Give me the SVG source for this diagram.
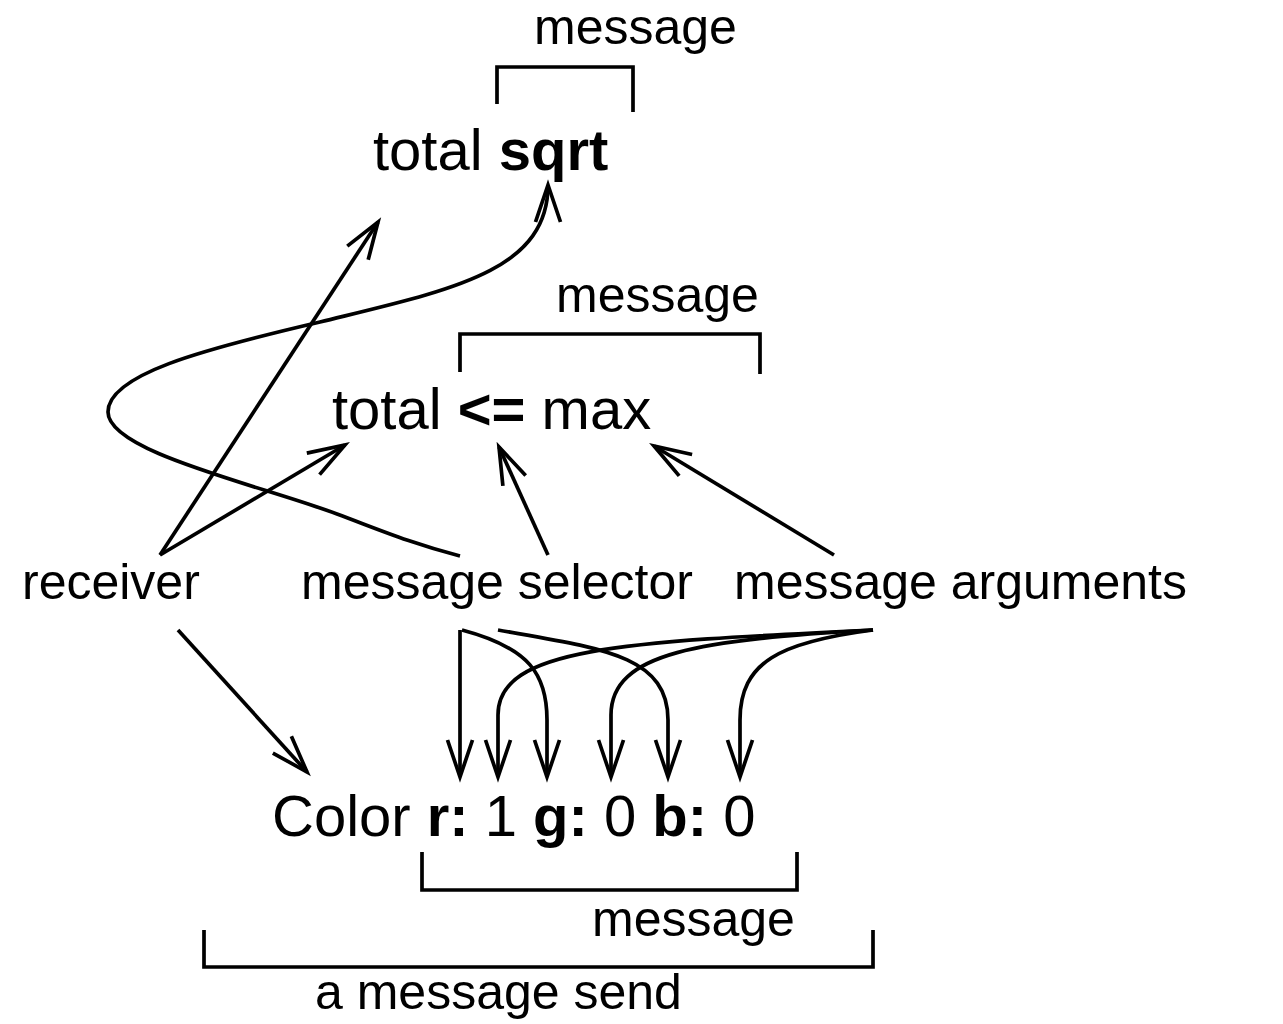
<svg xmlns="http://www.w3.org/2000/svg" width="1283" height="1024" viewBox="0 0 1283 1024">
<style>
text{font-family:"Liberation Sans",Arial,sans-serif;fill:#000}
.code{font-size:58px}
.lbl{font-size:50px}
.b{font-weight:bold}
.ln{fill:none;stroke:#000;stroke-width:3.7}
.arr{fill:none;stroke:#000;stroke-width:3.7;marker-end:url(#ah)}
</style>
<defs>
<marker id="ah" markerUnits="userSpaceOnUse" markerWidth="80" markerHeight="80" refX="0" refY="0" orient="auto" overflow="visible">
<path d="M-37,-12.5 L0,0 L-37,12.5" fill="none" stroke="#000" stroke-width="3.7"/>
</marker>
</defs>
<rect width="1283" height="1024" fill="#fff"/>
<g id="expr-sqrt">
<text class="code" x="373" y="170">total <tspan class="b">sqrt</tspan></text>
<path class="ln" d="M497,104 V67 H633 V112"/>
<text class="lbl" x="534" y="44">message</text>
</g>
<g id="expr-le">
<text class="code" x="332" y="429">total <tspan class="b">&lt;=</tspan> max</text>
<path class="ln" d="M460,372 V334 H760 V374"/>
<text class="lbl" x="556" y="312">message</text>
</g>
<g id="expr-color">
<text class="code" x="272" y="836">Color <tspan class="b">r:</tspan> 1 <tspan class="b">g:</tspan> 0 <tspan class="b">b:</tspan> 0</text>
<path class="ln" d="M422,852 V890 H797 V852"/>
<text class="lbl" x="592" y="936">message</text>
<path class="ln" d="M204,930 V967 H873 V930"/>
<text class="lbl" x="315" y="1009">a message send</text>
</g>
<g id="receiver"><text class="lbl" x="22" y="599">receiver</text></g>
<g id="selector"><text class="lbl" x="301" y="599">message selector</text></g>
<g id="arguments"><text class="lbl" x="734" y="599">message arguments</text></g>
<g id="connectors">
<path class="arr" d="M160,555 L378,222"/>
<path class="arr" d="M160,555 L345,445"/>
<path class="arr" d="M460,556 C410,543 380,530 337,514 C260,485 108,452 108,412 C108,375 200,350 320,322 C450,290 548,272 548,185"/>
<path class="arr" d="M548,555 L499,447"/>
<path class="arr" d="M834,555 L654,446"/>
<path class="arr" d="M178,630 L307,772"/>
<path class="arr" d="M460,630 L460,777"/>
<path class="arr" d="M462,630 C530,648 547,675 547,720 L547,777"/>
<path class="arr" d="M498,630 C600,648 668,655 668,720 L668,777"/>
<path class="arr" d="M873,630 C620,642 498,648 498,715 L498,777"/>
<path class="arr" d="M873,630 C700,640 611,652 611,715 L611,777"/>
<path class="arr" d="M873,630 C780,642 740,662 740,720 L740,777"/>
</g>
</svg>
